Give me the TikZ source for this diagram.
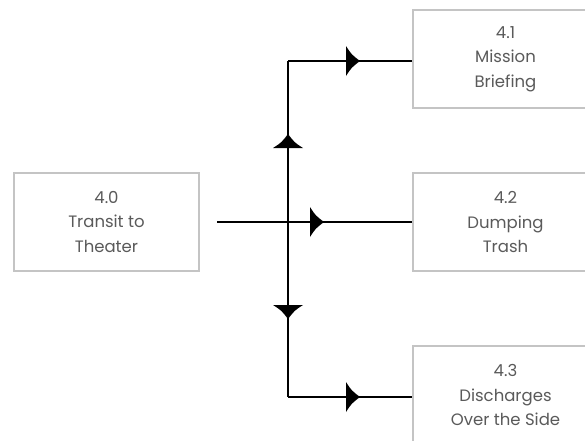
\documentclass[tikz,border=0pt]{standalone}
\usepackage{fontspec}
\setmainfont{Poppins}
\usetikzlibrary{decorations.markings}
\definecolor{boxgray}{HTML}{C4C4C4}
\definecolor{txtgray}{HTML}{5A5A5A}
\tikzset{
  procbox/.style={draw=boxgray, line width=1.2pt, minimum width=185pt, minimum height=98pt,
    inner sep=0pt, align=center, text=txtgray, font=\fontsize{16.5}{24.5}\selectfont},
  flow/.style={line width=2.6pt, black},
  headat/.style={postaction={decorate}, decoration={markings,
    mark=at position #1 with {\fill[black] (0pt,-15pt) .. controls (5.5pt,-6.5pt) .. (14pt,0pt)
      .. controls (5.5pt,6.5pt) .. (0pt,15pt) -- cycle;}}}
}
\begin{document}
\begin{tikzpicture}[x=1pt,y=-1pt]
\clip (0,0) rectangle (585,440);
\fill[white] (0,0) rectangle (585,440);
\node[procbox] (b0) at (106.5,222) {4.0\\Transit to\\Theater};
\node[procbox] (b1) at (505.5,59) {4.1\\Mission\\Briefing};
\node[procbox] (b2) at (505.5,222) {4.2\\Dumping\\Trash};
\node[procbox] (b3) at (505.5,395) {4.3\\Discharges\\Over the Side};
\coordinate (s) at (217,222);
\coordinate (x) at (288,222);
\coordinate (j1) at (288,61);
\coordinate (j3) at (288,397);
\draw[flow, headat=93pt] (s) -- (s -| b2.west);
\draw[flow, headat=74pt] (x) -- (j1);
\draw[flow, headat=83pt] (x) -- (j3);
\draw[flow, headat=58pt] (j1) -- (j1 -| b1.west);
\draw[flow, headat=58pt] (j3) -- (j3 -| b3.west);
\end{tikzpicture}
\end{document}
